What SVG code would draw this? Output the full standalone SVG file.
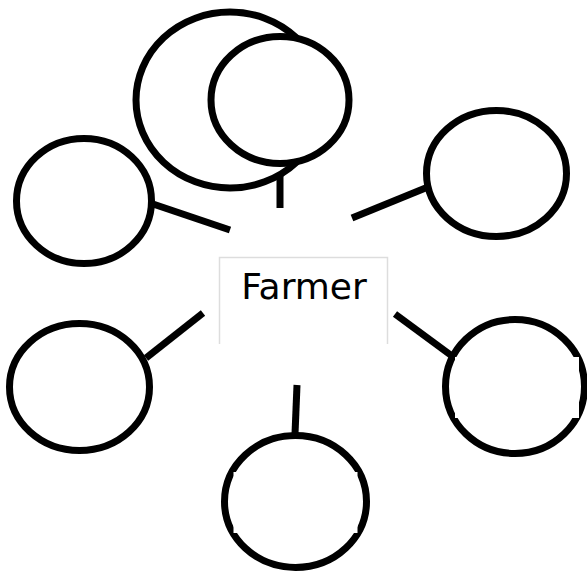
<svg xmlns="http://www.w3.org/2000/svg" width="587" height="572" viewBox="0 0 587 572">
<style>
.n{fill:#fff;stroke:#000;stroke-width:7}
.c line{stroke:#000;stroke-width:7}
.box{fill:none;stroke:#ddd;stroke-width:1.5}
.lbl{font-family:"DejaVu Sans",sans-serif;font-size:36px;fill:#000}
.m{fill:#fff}
</style>
<rect width="587" height="572" fill="#fff"/>
<g class="c">
<line x1="280" y1="166" x2="280" y2="208"/>
<line x1="153" y1="204" x2="230" y2="230"/>
<line x1="352" y1="218" x2="428" y2="187"/>
<line x1="146" y1="358" x2="203" y2="313"/>
<line x1="395" y1="314" x2="452" y2="356"/>
<line x1="297" y1="385" x2="295" y2="434"/>
</g>
<g id="top">
<ellipse class="n" cx="230" cy="100" rx="94" ry="88"/>
<ellipse class="n" cx="280" cy="100" rx="69" ry="63.5"/>
</g>
<g id="upperLeft"><ellipse class="n" cx="84" cy="201" rx="67.5" ry="62.5"/></g>
<g id="upperRight"><ellipse class="n" cx="496.5" cy="173.5" rx="70" ry="63"/></g>
<g id="lowerLeft"><ellipse class="n" cx="79.5" cy="387" rx="70" ry="63.5"/></g>
<g id="lowerRight"><ellipse class="n" cx="515" cy="386.5" rx="69.5" ry="67"/><rect class="m" x="455" y="357" width="124" height="61"/></g>
<g id="bottom"><ellipse class="n" cx="295.5" cy="501.5" rx="71" ry="66"/><rect class="m" x="233.5" y="472" width="124" height="61"/></g>
<g id="farmer">
<path class="box" d="M219.5,344 V257.5 H387.5 V344"/>
<text class="lbl" x="304" y="299" text-anchor="middle">Farmer</text>
</g>
</svg>
